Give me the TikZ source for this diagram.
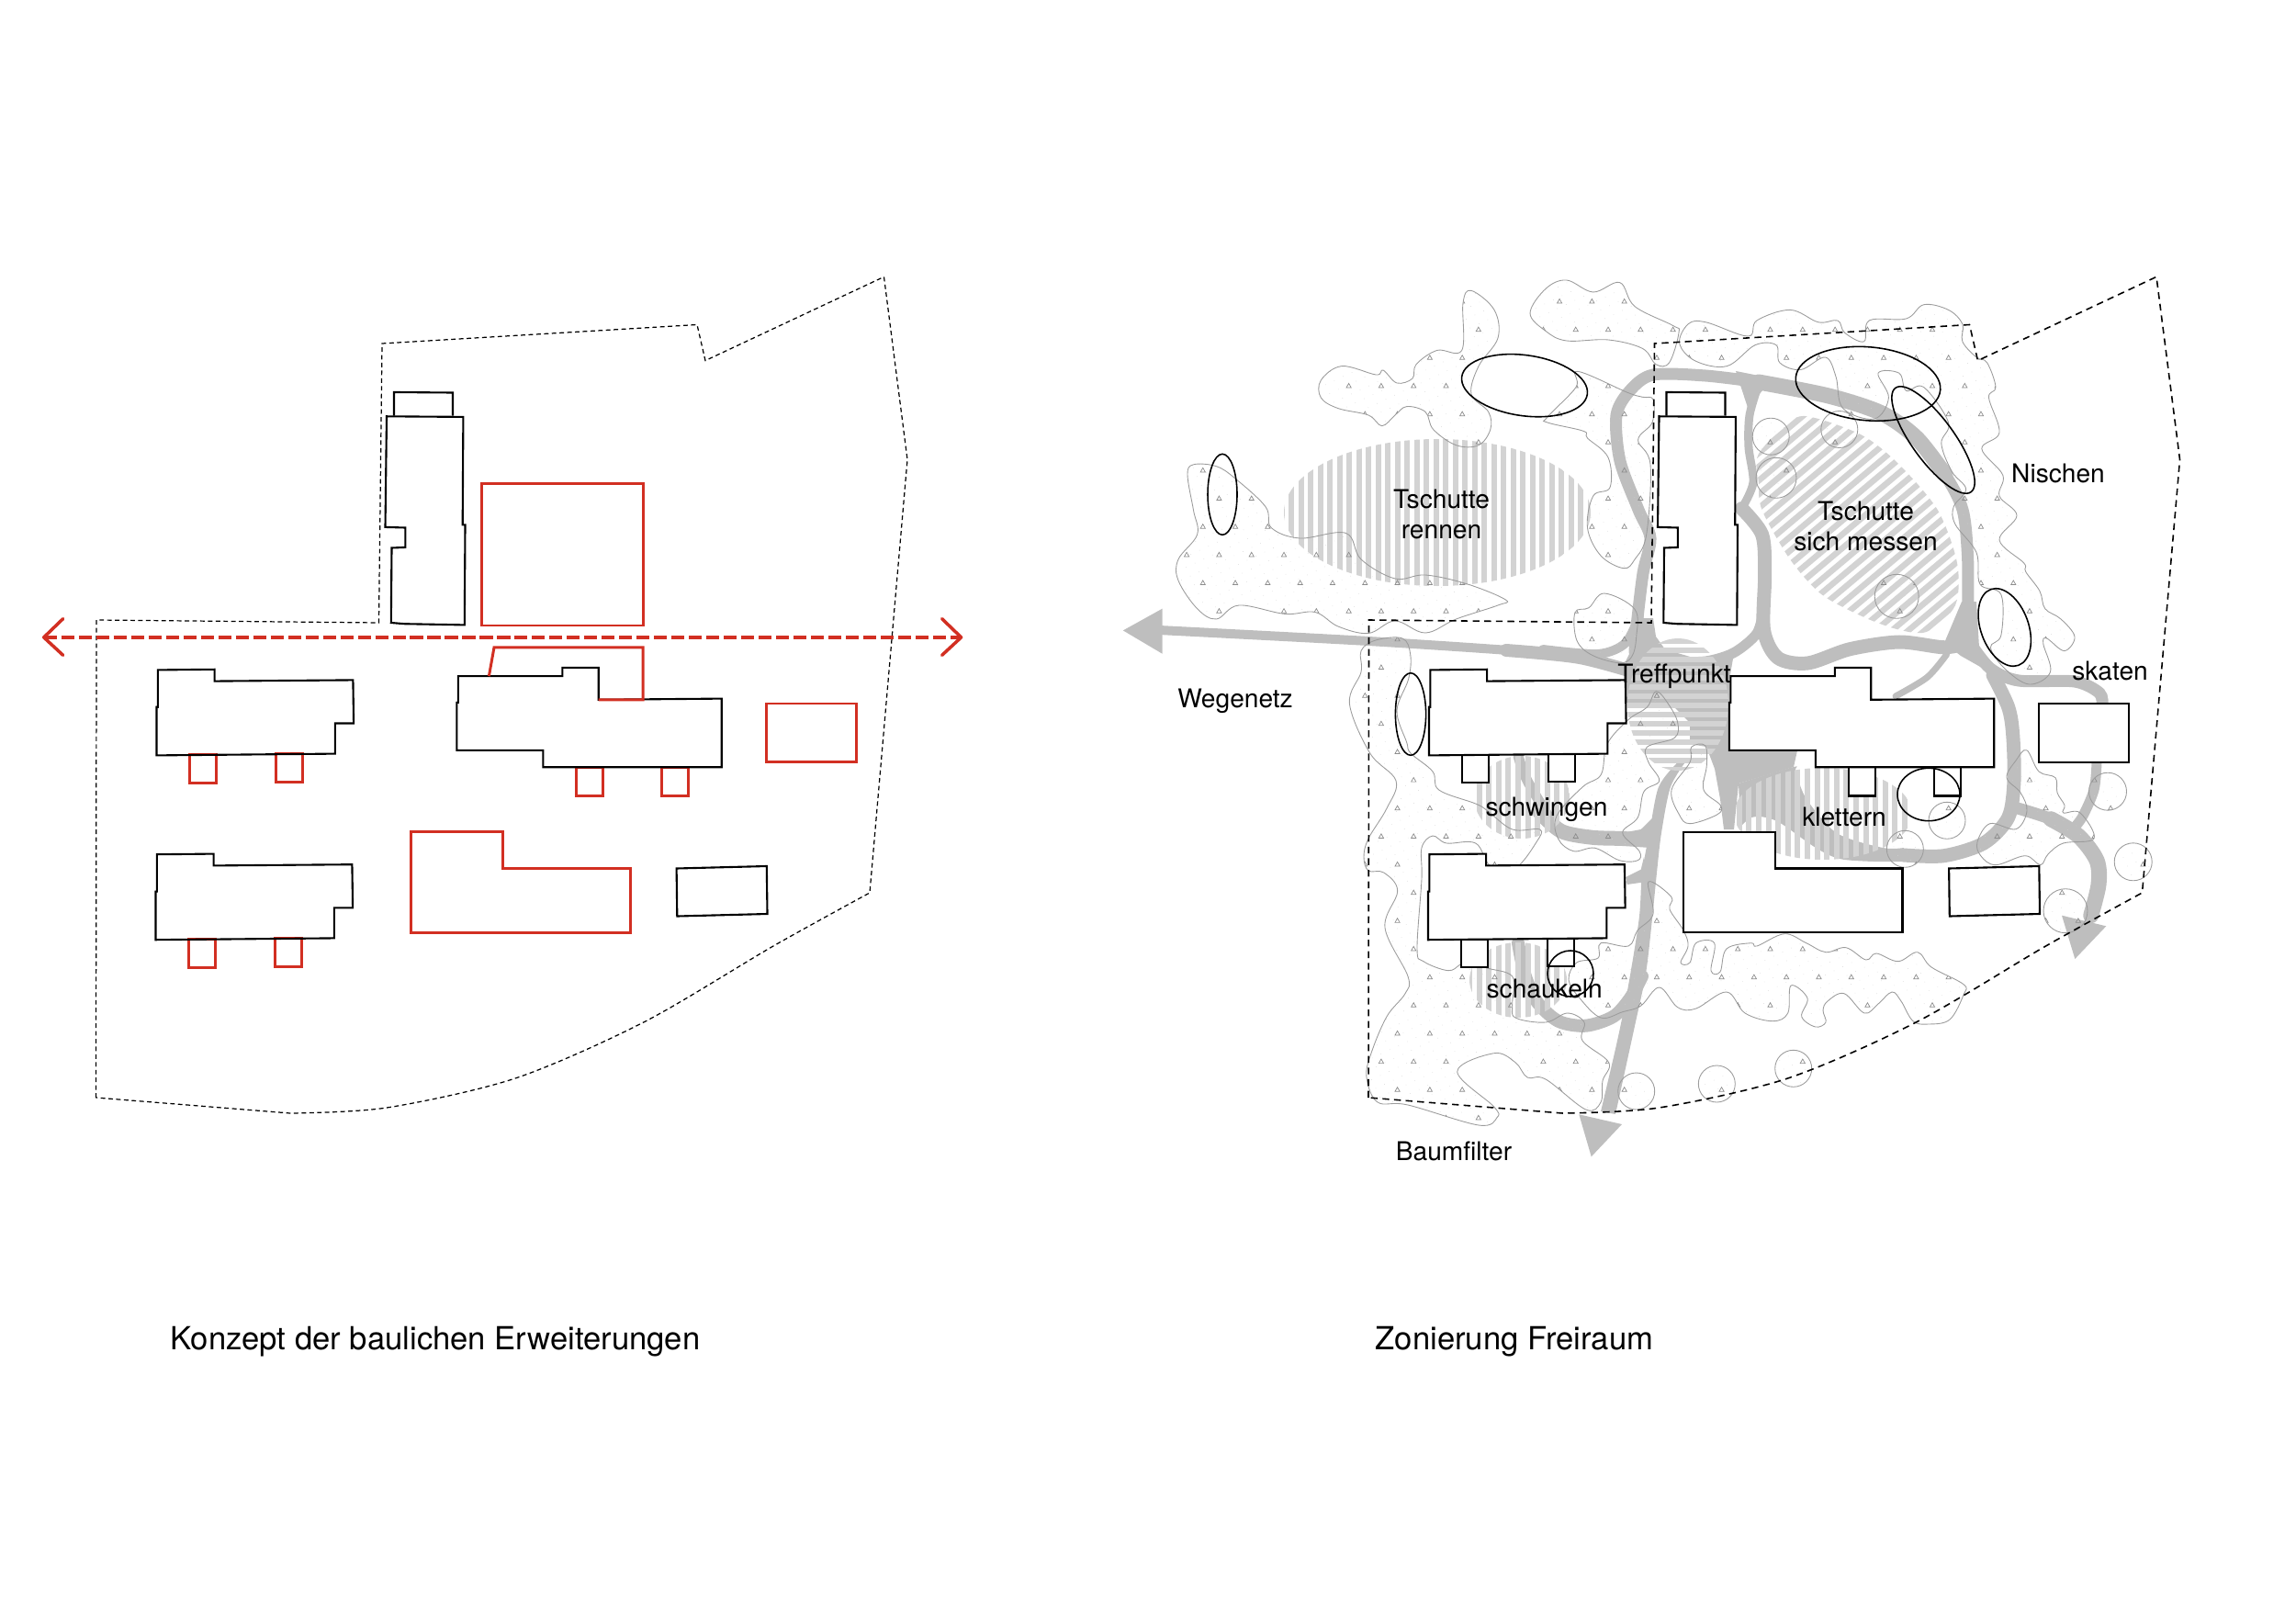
\documentclass[tikz,border=0pt]{standalone}
\usepackage{fontspec}
\setmainfont{TeX Gyre Heros}
\usetikzlibrary{patterns.meta}
\definecolor{rot}{HTML}{D22F22}
\definecolor{weg}{HTML}{BEBEBE}
\definecolor{streifen}{HTML}{D3D3D3}
\definecolor{baum}{HTML}{9C9C9C}
\tikzset{
  wand/.style={
    draw=black,
    fill=white,
    line width=0.6pt,
    line join=miter
  },
  neubau/.style={
    draw=rot,
    line width=0.85pt
  },
  grenzlinie/.style={
    draw=black,
    line width=0.35pt,
    dash pattern=on 1.4pt off 1pt
  },
  grenzlinieb/.style={
    draw=black,
    line width=0.45pt,
    dash pattern=on 2.1pt off 1.5pt
  },
  achse/.style={
    draw=rot,
    line width=1pt,
    dash pattern=on 4pt off 1.4pt
  },
  pfeilspitze/.style={
    draw=rot,
    line width=1pt,
    line join=round,
    line cap=round
  },
  route/.style={
    draw=weg,
    line cap=round
  },
  stripe/.style={
    draw=streifen,
    line width=0.06cm
  },
  baumrand/.style={
    draw=baum,
    line width=0.25pt
  },
  tree/.style={
    draw=baum!90!black,
    line width=0.2pt
  },
  nische/.style={
    draw=black,
    line width=0.45pt
  },
  label/.style={
    font=\fontsize{8}{9}\selectfont,
    inner sep=0pt,
    anchor=base
  },
  titel/.style={
    font=\fontsize{9.85}{11}\selectfont,
    inner sep=0pt,
    anchor=base west
  },
}
\newcommand{\grenze}{(104.5,1195) -- (105,675) -- (412.5,678) -- (416,374) -- (759,353.5) -- (768,392.6) -- (962.5,301.4) -- (988,500.4) -- plot[smooth] coordinates {(947,972) (842,1030) (701.5,1112.6) (561,1174) (421,1206) (316,1212)} -- cycle}
\newcommand{\haustop}{(429,452.6) -- (429,427) -- (493,427.5) -- (493,452.6)}
\newcommand{\turm}{(421,453.3) -- (504.4,453.9) -- (503.7,571.4) -- (506.5,571.4) -- (505.8,680.4) -- (440.5,679.2) -- (425.8,678) -- (426.5,596.5) -- (441.3,595.9) -- (441.3,574.5) -- (419.5,573.9) -- cycle}
\newcommand{\hausa}{(171.9,729.4) -- (233.6,728.8) -- (233.6,741.6) -- (384.4,740.4) -- (385.1,787.5) -- (364.8,787.5) -- (364.8,820.6) -- (170.5,822.4) -- (170.5,769.8) -- (171.9,769.8) -- cycle}
\newcommand{\anbaua}{(206.2,821.8) rectangle (235.7,852.4) (300.2,820.6) rectangle (329.7,851.2)}
\newcommand{\hausb}{(498.8,736.1) -- (612.4,736.1) -- (612.4,726.9) -- (651.7,726.9) -- (651.7,761.8) -- (785.7,760.6) -- (785.7,835.3) -- (591.4,835.3) -- (591.4,816.9) -- (497.4,816.9) -- (497.4,764.9) -- (498.8,764.9) -- cycle}
\newcommand{\anbaub}{(627.1,835.3) rectangle (656.6,866.5) (720.4,835.3) rectangle (749.9,866.5)}
\newcommand{\hausl}{(447.6,905.7) -- (547.9,905.7) -- (547.9,945.5) -- (686,945.5) -- (686,1015.3) -- (447.6,1015.3) -- cycle}
\newcommand{\hausr}{(834.8,766) rectangle (932.3,829.8)}
\newcommand{\hausk}{(736.6,945.5) -- (834.8,943) -- (835.5,995) -- (737.3,997.5) -- cycle}
\newcommand{\baeume}{
  plot[smooth cycle,tension=.6] coordinates {(1299.5,505.8) (1324.4,507.7) (1345,521) (1378,551.7) (1384.4,574.7) (1415.5,586) (1465.3,580.4) (1482,609) (1519,630) (1552,626) (1598,636) (1639.4,653) (1631,659) (1585.5,674) (1552,689) (1519,676) (1490,689.5) (1457,682) (1432,666.5) (1399,668.4) (1349,659) (1324.4,674) (1303.6,662.7) (1283,632) (1283,609) (1303.6,582) (1299.5,555.5) (1293,517)}
  plot[smooth cycle,tension=.6] coordinates {(1438.3,414) (1461,398.6) (1498.4,408) (1506,403) (1521,417) (1538,412) (1542,396.7) (1564.8,381.4) (1591.7,381.4) (1593,329.8) (1602,316.4) (1627,337.4) (1631,368) (1610,398.6) (1602,429) (1620.7,448.4) (1622.8,467.5) (1610,484.7) (1585.5,484.7) (1560.6,467.5) (1552,448.4) (1531.6,442.6) (1519,452) (1504.7,463.7) (1490,452) (1457,444.6) (1438.3,433)}
  plot[smooth cycle,tension=.6] coordinates {(1666,341) (1683,314.4) (1705.7,305) (1734.7,318) (1763.7,307.6) (1780,333.6) (1821.8,354.6) (1828,362) (1817.6,394.8) (1803,396.7) (1788.6,379.5) (1751.3,370) (1705.7,371) (1683,360.4)}
  plot[smooth cycle,tension=.6] coordinates {(1685,454) (1716,421.6) (1718,404.4) (1772,427.3) (1788.6,432.3) (1800,435) (1799,460) (1783.6,479) (1797,505.8) (1792.7,582) (1780,609) (1768,618.7) (1743,605) (1728.5,574.7) (1734.7,540) (1753,530.7) (1751,498) (1728.5,477) (1724.3,469.4) (1685,460)}
  plot[smooth cycle,tension=.6] coordinates {(1746.7,646) (1780,663.3) (1781.7,693.3) (1776.7,715) (1763,721.7) (1733,713) (1716.7,696.7) (1715,666.7) (1730,661.7)}
  plot[smooth cycle,tension=.6] coordinates {(1482,708.6) (1498,697) (1527,695) (1535.7,712.5) (1533.7,739) (1521,773.7) (1531.6,808) (1536,820) (1560,840) (1566.7,860) (1606.7,875) (1620,883) (1646.7,903) (1676.7,903) (1673,916.7) (1650,945) (1623,943) (1606.7,918) (1575,918) (1560,910) (1548,923) (1548,956.7) (1543,1033) (1550,1046.7) (1576.7,1056.7) (1590,1050) (1603,1041.7) (1616.7,1053) (1646.7,1063) (1646.7,1093) (1650,1108) (1683,1113) (1706.7,1103) (1725,1113) (1723,1133) (1751.7,1156.7) (1745,1176.7) (1743,1200) (1726.7,1208) (1683,1175) (1663,1173) (1650,1156.7) (1626.7,1146.7) (1586.7,1166.7) (1626.7,1205) (1630,1216.7) (1610,1225) (1533,1203) (1500,1200) (1488,1173) (1493,1146.7) (1510,1106.7) (1530,1081.7) (1533,1063) (1508,1010) (1521.7,970) (1506.7,950) (1490,948) (1485,933) (1490,913) (1510,880) (1520,850) (1491.7,820) (1469.4,766) (1482,731.6)}
  plot[smooth cycle,tension=.6] coordinates {(1803.3,752.7) (1816.7,766.7) (1826.7,786.7) (1823.3,803.3) (1793.3,813.3) (1795,830) (1806.7,850) (1790,861.7) (1783.3,890) (1766.7,906.7) (1785,926.7) (1783.3,936.7) (1763.3,936.7) (1736.7,923.3) (1713.3,926.7) (1696.7,913.3) (1695,888.3) (1723.3,856.7) (1743.3,843.3) (1750,810) (1773.3,783.3) (1793.3,770)}
  plot[smooth cycle,tension=.6] coordinates {(1841.7,813.3) (1856.7,811.7) (1858.3,833.3) (1855,860) (1873.3,876.7) (1870,886.7) (1840,896.7) (1828.3,886.7) (1820,860) (1840,830)}
  plot[smooth cycle,tension=.6] coordinates {(1795,960) (1820,976.7) (1818,990) (1833,1013) (1838,1030) (1830,1048) (1840,1048) (1846.7,1026.7) (1866.7,1026.7) (1863,1056.7) (1873,1058) (1880,1033) (1906.7,1026.7) (1913,1030) (1943,1016.7) (1966.7,1026.7) (1988,1036.7) (2010,1031.7) (2031.7,1045) (2043,1038) (2066.7,1046.7) (2088,1036.7) (2103,1053) (2138,1071.7) (2138,1083) (2123,1110) (2100,1115) (2083,1111.7) (2070,1090) (2060,1080) (2045,1093) (2030,1103) (2008,1081.7) (1990,1090) (1985,1100) (1988,1113) (1976.7,1118) (1961.7,1106.7) (1968,1086.7) (1950,1073) (1946.7,1103) (1930,1111.7) (1900,1103) (1880,1080) (1846.7,1098) (1826.7,1096.7) (1806.7,1075) (1786.7,1095) (1766.7,1101.7) (1743,1108) (1720,1086.7) (1708,1066.7) (1716.7,1048) (1740,1043) (1743,1026.7) (1773,1030) (1783,1013) (1800,995)}
  plot[smooth cycle,tension=.6] coordinates {(2185,846.7) (2195,828) (2206.7,816.7) (2220,840) (2238,846.7) (2240,863) (2248,876.7) (2246.7,885) (2265,885) (2280,913) (2246.7,918) (2230,930) (2221.7,941.7) (2205,931.7) (2173,941.7) (2156.7,931.7) (2153,916.7) (2166.7,896.7) (2195,902.7) (2207,883) (2200,863)}
  plot[smooth cycle,tension=.6] coordinates {(1828.7,373.8) (1838.3,352.7) (1857.4,350.8) (1903.3,366) (1913,348.9) (1949.3,337.4) (1979.9,350.8) (2001,349) (2008.6,362.3) (2029.6,371.8) (2035.4,348.9) (2075.5,347) (2094.7,331.7) (2121.5,337.4) (2136.8,352.7) (2136.8,371.8) (2152,389) (2163.6,394.8) (2173,421.6) (2165.5,433) (2177,471) (2157.8,488.6) (2180.8,517.3) (2177,540) (2196,561.3) (2177,588) (2203.7,613) (2205.7,622.5) (2221,643.6) (2226.7,662.7) (2244,674) (2259,693.3) (2247.7,708.6) (2228.6,695) (2224.8,701) (2232.5,731.6) (2209.5,745) (2182.7,727.8) (2167.4,704.8) (2178.9,691.4) (2178.9,647.4) (2155.9,636) (2152,601.5) (2129,570.9) (2127.2,551.7) (2140.6,532.6) (2125.3,513.4) (2113.8,482.8) (2121.5,459.9) (2094.7,421.6) (2075.5,425.4) (2067.9,406.3) (2045,406.3) (2056.4,433) (2041,456) (2006.7,444.6) (1999,410) (1987.5,389) (1960.7,402.5) (1937.8,394.8) (1934,375.7) (1911,375.7) (1880.4,398.6) (1846,393)}
  (1781.7,1188) circle (20) (1869.3,1180) circle (20) (1952.7,1163.3) circle (20)
  (2295,861.7) circle (20.5) (2322.7,938.3) circle (20.5) (2249,991.7) circle (24)
  (2120,893.3) circle (20) (2074.3,924.3) circle (20)
  (1928.2,475.2) circle (20) (1934,520.3) circle (22) (2002.8,467.5) circle (20) (2065.2,649.3) circle (24)
}
\begin{document}
\begin{tikzpicture}[x=0.01cm,y=-0.01cm]
  \useasboundingbox (0,0) rectangle (2500,1767);

  \draw[grenzlinie] \grenze;
  \draw[neubau] (524.7,526.7) rectangle (700,681);
  \draw[neubau] \hausr;
  \draw[neubau] \hausl;
  \draw[neubau] \anbaua;
  \draw[neubau] \anbaub;
  \draw[neubau, shift={(-1,200.8)}] \anbaua;
  \draw[wand, fill=none] \haustop;
  \draw[wand, fill=none] \turm;
  \draw[wand, fill=none] \hausa;
  \draw[wand, fill=none, shift={(-1,200.8)}] \hausa;
  \draw[wand, fill=none] \hausb;
  \draw[wand, fill=none] \hausk;
  \draw[neubau] (532.4,736.1) -- (538,704.9) -- (700,704.9) -- (700,761.8) -- (651.7,761.8);
  \coordinate (achsew) at (47.7,693.9);
  \coordinate (achseo) at (1046.6,693.9);
  \draw[achse] (achsew) -- (achseo);
  \draw[pfeilspitze] (68.7,673.6) -- (achsew) -- (68.7,713.4);
  \draw[pfeilspitze] (1025.6,673.6) -- (achseo) -- (1025.6,713.4);
  \node[titel] (konzept) at (185,1469) {Konzept der baulichen Erweiterungen};

  \fill[weg] (1883,737) -- (1883,817) -- (1957,817) -- (1953,835) -- (1893,853) -- (1888,903) -- (1877,903) -- (1873,870) -- (1867,837) -- (1858,813) -- (1840,810) -- (1840,787) -- (1820,767) -- (1770,765) -- (1770,740) -- cycle;
  \fill[weg] (1780,673) -- (1800,673) -- (1803,693) -- (1813,707) -- (1847,717) -- (1887,717) -- (1883,740) -- (1770,740) -- (1770,720) -- (1780,700) -- cycle;
  \fill[weg] plot[smooth] coordinates {(1893,853) (1953,835) (1955,840) (1967,870) (2000,907) (2050,923) (2073,923)} -- plot[smooth] coordinates {(2073,938) (2040,938) (2003,935) (1977,923) (1940,897) (1923,890) (1907,890) (1895,900)} -- cycle;
  \fill[weg] (2117,700) -- (2136,655) -- (2152,655) -- (2155,705) -- (2172,735) -- (2135,714) -- cycle;
  \fill[weg] (1890,404) -- (1930,412) -- (1915,430) -- (1905,450) -- cycle;
  \fill[weg] (1222.8,686.4) -- (1265.5,662.7) -- (1265.5,711.7) -- cycle;
  \draw[route, line width=0.1cm] plot[smooth] coordinates {(1262,686) (1490,698) (1656,709) (1720,716) (1790,735)};
  \draw[route, line width=0.14cm] plot[smooth] coordinates {(1640,708) (1720,716) (1790,735)};
  \draw[route, line width=0.1cm] plot[smooth] coordinates {(1680,707) (1740,712) (1770,700) (1785,670)};
  \draw[route, line width=0.13cm] plot[smooth] coordinates {(1915,416) (1857,409) (1800,408) (1775,425) (1760,452) (1764,502) (1784,555) (1797,586) (1789,624) (1782,682) (1780,710)};
  \draw[route, line width=0.17cm] plot[smooth] coordinates {(1915,416) (1991,431) (2049,450) (2087,477) (2118,517)};
  \draw[route, line width=0.13cm] plot[smooth] coordinates {(2087,477) (2118,517) (2137,555) (2142.5,605) (2143,663) (2147,697)};
  \draw[route, line width=0.09cm] plot[smooth] coordinates {(1915,418) (1905,452) (1904,487) (1909,525) (1897.6,551.7)};
  \draw[route, line width=0.15cm] plot[smooth] coordinates {(1896.4,553.6) (1918.6,582) (1921.7,624.4) (1920.5,685.7) (1935.9,716.3) (1968.4,722) (2014.3,706.7) (2068,699) (2117.6,704.8) (2144.4,699)};
  \draw[route, line width=0.11cm] plot[smooth] coordinates {(1920.5,662.7) (1913,689.5) (1888,710.5) (1857,720) (1819,720)};
  \draw[route, line width=0.15cm] plot[smooth] coordinates {(2073,931) (2116.7,931.7) (2160,918) (2186.7,890) (2193,850) (2191.7,800) (2186.7,770) (2170,735)};
  \draw[route, line width=0.13cm] plot[smooth] coordinates {(2144.4,699) (2167,727.7) (2198,741) (2259,742) (2286,754.5) (2289,768)};
  \draw[route, line width=0.11cm] plot[smooth] coordinates {(2283,830) (2280,860) (2267,890) (2255,905)};
  \draw[route, line width=0.07cm] plot[smooth] coordinates {(2064,758) (2098.5,737.3) (2119.6,712.5)};
  \draw[route, line width=0.13cm] plot[smooth] coordinates {(2190,878) (2233,891.7) (2263,910)};
  \draw[route, line width=0.17cm] plot[smooth] coordinates {(2233,891.7) (2263,910) (2283,936.7) (2285,963) (2276.7,996.7)};
  \fill[weg] (2245,996.7) -- (2293.3,1008.3) -- (2259.3,1044) -- cycle;
  \fill[weg] plot[smooth] coordinates {(1826.7,830) (1806,856.7) (1796,906.7) (1788,950) (1784.7,1000) (1773,1073) (1761,1133) (1743,1210)} -- plot[smooth] coordinates {(1759,1213) (1780,1117) (1792,1060) (1799,1000) (1804,950) (1809,906.7) (1819,856.7) (1837,827)} -- cycle;
  \fill[weg] (1719.3,1213.3) -- (1766,1224) -- (1732.7,1259.3) -- cycle;
  \draw[route, line width=0.16cm] plot[smooth] coordinates {(1796.7,915) (1766.7,913) (1733,911.7) (1700,905) (1677,885)};
  \draw[route, line width=0.11cm] plot[smooth] coordinates {(1690,895) (1663,850) (1653,823)};
  \fill[weg] (1766.7,906.7) -- (1786.7,903) -- (1800,890) -- (1797,913) -- cycle;
  \fill[weg] (1770,955) -- (1786.7,946.7) -- (1790,933) -- (1793,960) -- (1771.7,963) -- cycle;
  \draw[route, line width=0.14cm] plot[smooth] coordinates {(1788,1063) (1775,1086.7) (1756.7,1106.7) (1726.7,1116.7) (1696.7,1111.7) (1673,1090) (1660,1060) (1653,1026.7)};

  \begin{scope}
    \clip (1565,558) ellipse (167 and 80);
    \foreach \x in {1395.5,1406,...,1736}{
      \draw[stripe] (\x,470) -- (\x,650);}
  \end{scope}
  \begin{scope}
    \clip plot[smooth cycle] coordinates {(1914.8,494.3) (1953,456) (1980,456) (2029.6,475) (2068,505.8) (2110,555.5) (2131,613) (2129,659) (2098.5,687.6) (2068,685.7) (2029.6,672) (1983.7,647.4) (1949,609) (1918.6,555.5) (1914.8,525)};
    \foreach \c in {-300,-285,...,300}{
      \draw[stripe, line width=0.065cm] (1880,687.6+\c) -- (2170,444+\c);}
  \end{scope}
  \begin{scope}
    \clip (1827,767) ellipse (55 and 72);
    \foreach \y in {698,708,...,840}{
      \draw[stripe] (1760,\y) -- (1890,\y);}
  \end{scope}
  \begin{scope}
    \clip (1985,886) ellipse (97 and 50);
    \foreach \x in {1883.1,1893.7,...,2085}{
      \draw[stripe] (\x,830) -- (\x,940);}
  \end{scope}
  \begin{scope}
    \clip (1657,868) ellipse (52 and 45);
    \foreach \x in {1600,1610.6,...,1712}{
      \draw[stripe] (\x,820) -- (\x,915);}
  \end{scope}
  \begin{scope}
    \clip (1653,1067) ellipse (53 and 41);
    \foreach \x in {1600,1610.6,...,1710}{
      \draw[stripe] (\x,1020) -- (\x,1110);}
  \end{scope}

  \path[pattern={Dots[radius=0.11pt,distance=3pt,angle=25]}, pattern color=baum!45] \baeume;
  \begin{scope}
    \clip \baeume;
    \foreach \n in {-12,...,19}{
      \foreach \k in {-14,...,16}{
        \pgfmathsetmacro{\tx}{1751+35.3*\k+17.65*mod(abs(\n),2)}
        \pgfmathsetmacro{\ty}{665+30.65*\n}
        \draw[tree] (\tx-2.6,\ty+2.2) -- (\tx+2.6,\ty+2.2) -- (\tx,\ty-2.4) -- cycle;}}
  \end{scope}
  \draw[baumrand] \baeume;

  \begin{scope}[shift={(1385.5,0)}]
    \draw[wand] \anbaua;
    \draw[wand] \anbaub;
    \draw[wand, shift={(-1,200.8)}] \anbaua;
    \draw[wand] \haustop;
    \draw[wand] \turm;
    \draw[wand] \hausa;
    \draw[wand, shift={(-1,200.8)}] \hausa;
    \draw[wand] \hausb;
    \draw[wand] \hausl;
    \draw[wand] \hausr;
    \draw[wand] \hausk;
    \draw[grenzlinieb] \grenze;
  \end{scope}

  \draw[nische] (1660,419.7) [rotate around={-8:(1660,419.7)}] ellipse (69 and 33);
  \draw[nische] (1331,538.3) ellipse (16 and 44);
  \draw[nische] (1536,777.5) ellipse (16.6 and 44.8);
  \draw[nische, rotate around={-5:(2034,417.8)}] (2034,417.8) ellipse (79 and 40);
  \draw[nische, rotate around={-54:(2105,479)}] (2105,479) ellipse (70 and 23);
  \draw[nische, rotate around={-70:(2182.7,683)}] (2182.7,683) ellipse (44 and 26);
  \draw[nische] (1710,1060) circle (25);
  \draw[nische] (2100,865) ellipse (34 and 28.7);

  \node[label] (rennena) at (1569.5,553.6) {Tschutte};
  \node[label] (rennenb) at (1569.5,586) {rennen};
  \node[label] (messena) at (2031.5,567) {Tschutte};
  \node[label] (messenb) at (2031.5,599.5) {sich messen};
  \node[label] (nischen) at (2241,525) {Nischen};
  \node[label] (skaten) at (2297.5,740.4) {skaten};
  \node[label] (treffpunkt) at (1823,743) {Treffpunkt};
  \node[label] (wegenetz) at (1345,770.6) {Wegenetz};
  \node[label] (schwingen) at (1684,888) {schwingen};
  \node[label] (klettern) at (2008,899) {klettern};
  \node[label] (schaukeln) at (1681.7,1086.7) {schaukeln};
  \node[label] (baumfilter) at (1583,1263) {Baumfilter};
  \node[titel] (zonierung) at (1497,1469) {Zonierung Freiraum};
\end{tikzpicture}
\end{document}
